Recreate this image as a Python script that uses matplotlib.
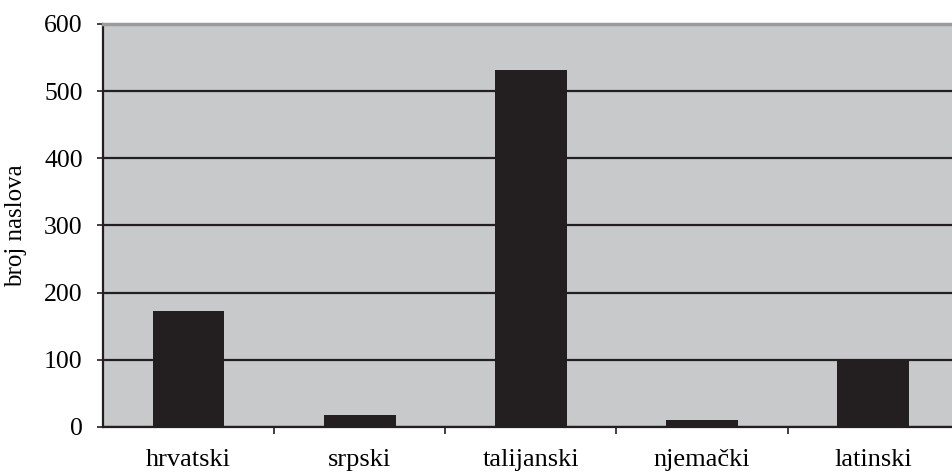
import numpy as np
import matplotlib.pyplot as plt

# Data
jezici = ['hrvatski', 'srpski', 'talijanski', 'njemački', 'latinski']
broj_naslova = [173, 18, 532, 10, 101]

plt.rcParams['font.family'] = ['Liberation Serif', 'DejaVu Serif']

fig = plt.figure(figsize=(9.53, 4.73), dpi=100)
ax = fig.add_axes([0.108, 0.0973, 0.898, 0.852])
ax.set_facecolor('#c8c9cb')

x = np.arange(len(jezici))
ax.bar(x, broj_naslova, width=0.42, color='#231f20', zorder=3)

ax.set_ylim(0, 600)
ax.set_xlim(-0.5, len(jezici) - 0.5)
ax.set_yticks(np.arange(0, 601, 100))
ax.yaxis.grid(True, color='#231f20', linewidth=1.6, zorder=1)
ax.tick_params(axis='y', direction='out', length=4.5, width=1.2, color='#231f20',
               labelsize=18.5, pad=10)

# category boundaries as ticks, labels centred on bars
ax.set_xticks(x[:-1] + 0.5)
ax.set_xticklabels([])
ax.set_xticks(x, minor=True)
ax.set_xticklabels(jezici, minor=True)
ax.tick_params(axis='x', which='major', direction='out', length=5, width=1.2, color='#231f20')
ax.tick_params(axis='x', which='minor', length=0, labelsize=19, pad=16)

ax.set_ylabel('broj naslova', fontsize=18)
ax.yaxis.set_label_coords(-0.089, 0.5)

for s in ['left', 'bottom']:
    ax.spines[s].set_color('#231f20')
    ax.spines[s].set_linewidth(1.6)
ax.spines['top'].set_color('#9a9b9d')
ax.spines['top'].set_linewidth(2.5)
ax.spines['right'].set_visible(False)

plt.savefig('out.png', dpi=100)
